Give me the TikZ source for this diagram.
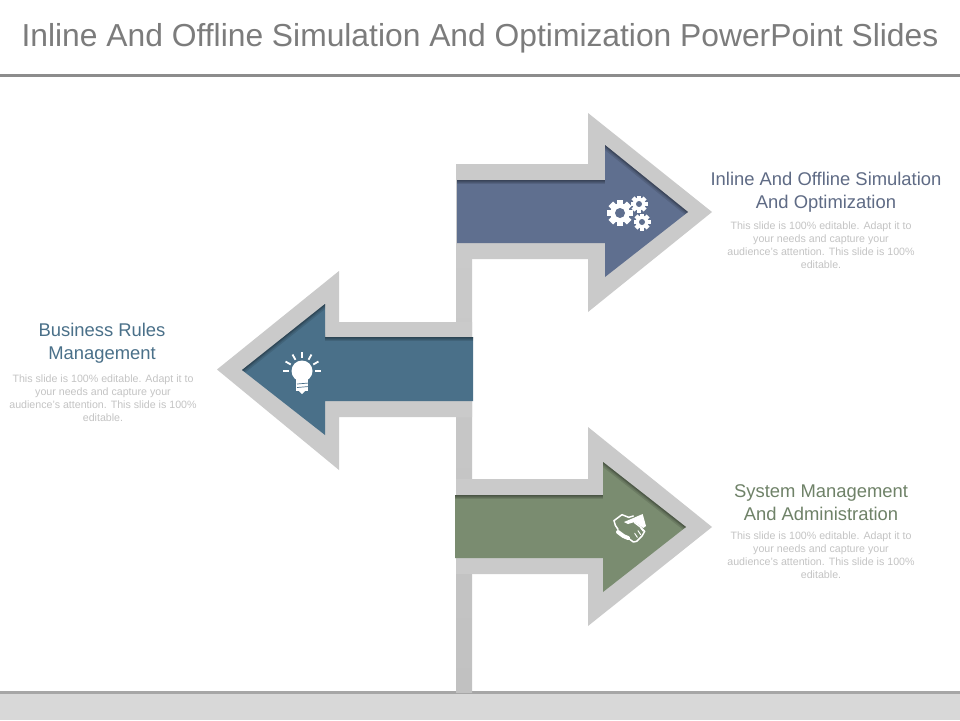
\documentclass[tikz,border=0pt]{standalone}
\usepackage{fontspec}
\usetikzlibrary{calc}
\setmainfont{Liberation Sans}
\definecolor{band}{HTML}{CACACA}
\definecolor{bandlow}{HTML}{C1C1C1}
\definecolor{cblue}{HTML}{5F6F8F}
\definecolor{cteal}{HTML}{4A7089}
\definecolor{cgreen}{HTML}{7A8C70}
\definecolor{ttl}{HTML}{7C7C7C}
\definecolor{rulec}{HTML}{8C8C8C}
\definecolor{footc}{HTML}{D8D8D8}
\definecolor{footl}{HTML}{A6A6A6}
\definecolor{bodyc}{HTML}{C4C4C4}
\definecolor{hblue}{HTML}{5F6B85}
\definecolor{hteal}{HTML}{4A7089}
\definecolor{hgreen}{HTML}{6F8268}
\newcommand{\gearicon}[5]{%
  \fill[white] (#1,#2) circle[radius=#3*0.74];
  \foreach \a in {0,45,...,315}{
    \fill[white,rotate around={\a:(#1,#2)}] (#1-#3*0.25,#2-#3) rectangle (#1+#3*0.25,#2-#3*0.6);
  }
  \fill[#5] (#1,#2) circle[radius=#4];
}
\newcommand{\softedge}[1]{%
  \foreach \w in {1.5,3,5,8}{
    \draw[black,opacity=0.11,line width=\w pt,line join=miter] #1;
  }
}
\tikzset{
  titletext/.style={text=ttl,align=center,font=\fontsize{31.8}{36}\selectfont,inner sep=0pt},
  headtext/.style={align=center,font=\fontsize{18.4}{23}\selectfont,inner sep=0pt},
  bodytext/.style={text=bodyc,align=center,font=\fontsize{10.65}{13}\selectfont,inner sep=0pt},
  rayline/.style={white,line width=1.8pt},
  handline/.style={white,line width=1.5pt,line join=round,line cap=round}
}
\begin{document}
\begin{tikzpicture}[x=1pt,y=-1pt]
\useasboundingbox (0,0) rectangle (960,720);
\fill[white] (0,0) rectangle (960,720);
% title and rule
\node[titletext] (title) at (480,38) {Inline And Offline Simulation And Optimization PowerPoint Slides};
\fill[rulec] (0,74) rectangle (960,77);
% footer
\fill[footc] (0,691) rectangle (960,720);
\fill[footl] (0,691) rectangle (960,694);
% stem
\shade[top color=band,bottom color=bandlow] (456,243) rectangle (472,692);
% outer arrows
\fill[band] (456,164) -- (588,164) -- (588,113) -- (712,212) -- (588,312) -- (588,259) -- (456,259) -- cycle;
\fill[band] (472,322) -- (339,322) -- (339,271) -- (217,369.5) -- (339,470) -- (339,417) -- (472,417) -- cycle;
\fill[band] (456,479) -- (588,479) -- (588,427) -- (712,527) -- (588,626) -- (588,574) -- (456,574) -- cycle;
% blue arrow
\begin{scope}
\clip (457,180) -- (605,180) -- (605,145) -- (688,212) -- (605,277) -- (605,243) -- (457,243) -- cycle;
\fill[cblue] (450,140) rectangle (700,285);
\softedge{(450,180) -- (605,180)}
\softedge{(605,145) -- (688,212)}
\end{scope}
% teal arrow
\begin{scope}
\clip (473,337) -- (325,337) -- (325,304) -- (242,370) -- (325,435) -- (325,401) -- (473,401) -- cycle;
\fill[cteal] (235,300) rectangle (480,440);
\softedge{(480,337) -- (325,337)}
\softedge{(325,304) -- (242,370)}
\end{scope}
% green arrow
\begin{scope}
\clip (455,495) -- (603,495) -- (603,462) -- (686,527) -- (603,592) -- (603,558) -- (455,558) -- cycle;
\fill[cgreen] (450,455) rectangle (695,600);
\softedge{(450,495) -- (603,495)}
\softedge{(603,462) -- (686,527)}
\end{scope}
% gears
\gearicon{620}{213}{13}{5}{cblue}
\gearicon{639}{204}{8.5}{3}{cblue}
\gearicon{642}{222}{8.5}{3}{cblue}
% bulb
\foreach \a in {0,30,...,180}{
  \draw[rayline] ($(302,371)+(\a:13pt)$) -- ($(302,371)+(\a:19pt)$);
}
\fill[white] (302,371) circle[radius=10.5];
\fill[white] (296,376) -- (308,376) -- (308,391) -- (296,391) -- cycle;
\draw[cteal,line width=0.7pt] (297,384) -- (309,383);
\draw[cteal,line width=0.7pt] (297,387.5) -- (309,386.5);
\fill[white] (299,391) -- (305,391) -- (302,394) -- cycle;
% handshake
\begin{scope}[shift={(600,500)},x=0.3333pt,y=-0.3333pt]
\draw[handline] (42,62) -- (66,44) -- (86,52) -- (100,48);
\draw[handline] (42,62) -- (46,76) -- (54,88);
\fill[white] (72,66) -- (128,42) -- (138,78) -- (130,84) -- (104,66) -- (84,72) -- cycle;
\draw[handline,line width=4pt] (54,96) -- (70,108) -- (84,114);
\draw[handline] (84,114) -- (100,126) -- (110,124) -- (118,116) -- (126,108) -- (134,94) -- (120,80) -- (104,68);
\draw[handline,line width=1pt] (104,100) -- (112,112);
\draw[handline,line width=1pt] (114,92) -- (122,104);
\draw[handline,line width=1pt] (122,84) -- (130,94);
\end{scope}
% texts
\node[headtext,text=hblue] (head1) at (826,192) {Inline And Offline Simulation\\And Optimization};
\node[bodytext] (body1) at (821,245) {This slide is 100\% editable.  Adapt it to\\your needs and capture your\\audience's attention. This slide is 100\%\\editable.};
\node[headtext,text=hteal] (head2) at (102,343) {Business Rules\\Management};
\node[bodytext] (body2) at (103,398) {This slide is 100\% editable.  Adapt it to\\your needs and capture your\\audience's attention. This slide is 100\%\\editable.};
\node[headtext,text=hgreen] (head3) at (821,503) {System Management\\And Administration};
\node[bodytext] (body3) at (821,555) {This slide is 100\% editable.  Adapt it to\\your needs and capture your\\audience's attention. This slide is 100\%\\editable.};
\end{tikzpicture}
\end{document}
